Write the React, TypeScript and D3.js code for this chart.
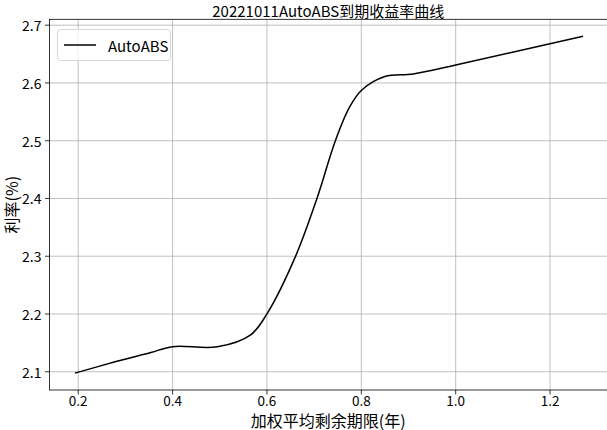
import React from "react";
import * as d3 from "d3";

const maturity = [0.193, 0.28, 0.354, 0.40, 0.495, 0.5655, 0.60, 0.661, 0.706, 0.745, 0.775, 0.80, 0.85, 0.91, 1.0, 1.27];
const rate = [2.0976, 2.1176, 2.1334, 2.1435, 2.1433, 2.164, 2.2003, 2.3007, 2.40, 2.50, 2.558, 2.587, 2.611, 2.6155, 2.631, 2.681];
const xTicks = [0.2, 0.4, 0.6, 0.8, 1.0, 1.2];
const yTicks = [2.1, 2.2, 2.3, 2.4, 2.5, 2.6, 2.7];
const seriesName = "AutoABS";
const title = "20221011AutoABS到期收益率曲线";
const xLabel = "加权平均剩余期限(年)";
const yLabel = "利率(%)";

const W = 607, H = 430;
const L = 49.5, R = 608.5, T = 19.3, B = 390;
const FONT = "SimHei, 'Noto Sans CJK SC', sans-serif";

export default function App() {
  const [x0, x1] = d3.extent(maturity) as [number, number];
  const [y0, y1] = d3.extent(rate) as [number, number];
  const px = (x1 - x0) * 0.05, py = (y1 - y0) * 0.05;
  const x = d3.scaleLinear().domain([x0 - px, x1 + px]).range([L, R]);
  const y = d3.scaleLinear().domain([y0 - py, y1 + py]).range([B, T]);
  const pts = maturity.map((m, i) => [m, rate[i]] as [number, number]);
  const line = d3.line<[number, number]>().x(d => x(d[0])).y(d => y(d[1])).curve(d3.curveCatmullRom.alpha(0.5));

  return (
    <svg width={W} height={H} style={{ position: "absolute", left: 0, top: 0, background: "#fff" }} fontFamily={FONT}>
      <rect x={0} y={0} width={W} height={H} fill="#fff" />
      {xTicks.map(t => (
        <line key={"gx" + t} x1={x(t)} x2={x(t)} y1={T} y2={B} stroke="#b0b0b0" strokeWidth={0.8} />
      ))}
      {yTicks.map(t => (
        <line key={"gy" + t} x1={L} x2={R} y1={y(t)} y2={y(t)} stroke="#b0b0b0" strokeWidth={0.8} />
      ))}
      <path d={line(pts) || ""} fill="none" stroke="#000" strokeWidth={1.5} />
      <rect x={L} y={T} width={R - L} height={B - T} fill="none" stroke="#000" strokeWidth={0.8} />
      {xTicks.map(t => (
        <g key={"tx" + t}>
          <line x1={x(t)} x2={x(t)} y1={B} y2={B + 4.5} stroke="#000" strokeWidth={0.8} />
          <text x={x(t)} y={B + 9.5} textAnchor="middle" fontSize={13.5} dominantBaseline="central">{d3.format(".1f")(t)}</text>
        </g>
      ))}
      {yTicks.map(t => (
        <g key={"ty" + t}>
          <line x1={L - 4.5} x2={L} y1={y(t)} y2={y(t)} stroke="#000" strokeWidth={0.8} />
          <text x={L - 8} y={y(t)} textAnchor="end" fontSize={14} dominantBaseline="central">{d3.format(".1f")(t)}</text>
        </g>
      ))}
      <text x={(L + 607) / 2} y={10} textAnchor="middle" fontSize={15} dominantBaseline="central">{title}</text>
      <text x={(L + 607) / 2} y={419.5} textAnchor="middle" fontSize={16} dominantBaseline="central">{xLabel}</text>
      <text transform={`translate(11,${(T + B) / 2}) rotate(-90)`} textAnchor="middle" fontSize={16} dominantBaseline="central">{yLabel}</text>
      <g>
        <rect x={57.5} y={29.5} width={113} height={31} rx={3} fill="#fff" fillOpacity={0.8} stroke="#d6d6d6" strokeWidth={1} />
        <line x1={64} x2={96} y1={45} y2={45} stroke="#000" strokeWidth={1.5} />
        <text x={108} y={45} fontSize={15} dominantBaseline="central">{seriesName}</text>
      </g>
    </svg>
  );
}
